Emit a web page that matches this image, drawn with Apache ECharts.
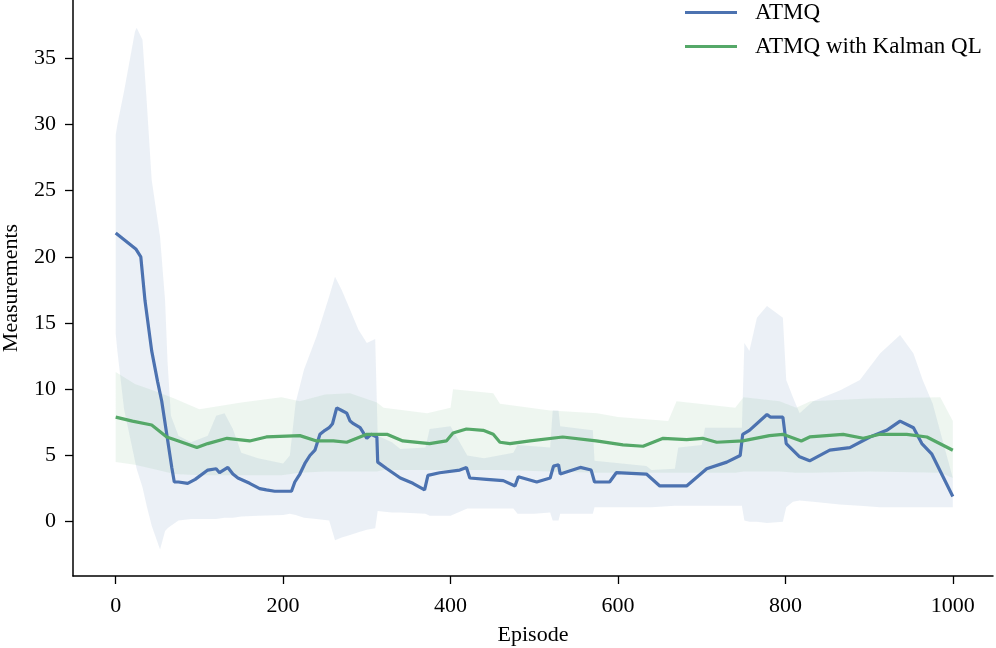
<!DOCTYPE html>
<html>
<head>
<meta charset="utf-8">
<script src="https://cdn.jsdelivr.net/npm/echarts@6/dist/echarts.min.js"></script>
<style>
  html, body { margin: 0; padding: 0; background: #fff; }
  #chart { width: 996px; height: 648px; }
</style>
</head>
<body>
<div id="chart"></div>
<script>
// ATMQ mean line
const atmqEp = [0, 24, 30, 35, 43, 50, 55, 61, 67, 70, 75, 86, 95, 110, 120, 124, 134, 140, 146, 160, 172, 180, 190, 210, 214, 220, 226, 232, 238, 244, 250, 255, 259, 264, 270, 276, 280, 284, 292, 300, 305, 312, 313, 324, 340, 355, 369, 373, 387, 411, 419, 423, 443, 463, 477, 481, 503, 519, 523, 529, 531, 555, 568, 572, 590, 598, 634, 650, 682, 706, 730, 746, 749, 757, 778, 782, 797, 801, 817, 829, 853, 877, 901, 921, 937, 953, 963, 975, 1000];
const atmqMean = [21.8, 20.6, 20.0, 16.7, 12.9, 10.6, 9.1, 6.6, 4.1, 3.0, 3.0, 2.9, 3.2, 3.9, 4.0, 3.7, 4.1, 3.6, 3.3, 2.9, 2.5, 2.4, 2.3, 2.3, 3.0, 3.6, 4.4, 5.0, 5.4, 6.6, 6.9, 7.1, 7.4, 8.6, 8.4, 8.2, 7.6, 7.4, 7.1, 6.3, 6.6, 6.4, 4.5, 4.0, 3.3, 2.9, 2.4, 3.5, 3.7, 3.9, 4.1, 3.3, 3.2, 3.1, 2.7, 3.4, 3.0, 3.3, 4.2, 4.3, 3.6, 4.1, 3.9, 3.0, 3.0, 3.7, 3.6, 2.7, 2.7, 4.0, 4.5, 5.0, 6.6, 6.9, 8.1, 7.9, 7.9, 5.9, 4.9, 4.6, 5.4, 5.6, 6.4, 6.9, 7.6, 7.1, 5.9, 5.1, 1.9];

// ATMQ with Kalman QL mean line
const kalmanEp = [0, 20, 43, 61, 75, 97, 110, 133, 160, 180, 220, 240, 260, 276, 300, 324, 343, 375, 395, 403, 419, 439, 451, 459, 471, 495, 534, 574, 606, 630, 654, 682, 701, 718, 749, 781, 797, 819, 829, 869, 893, 913, 945, 969, 1000];
const kalmanMean = [7.9, 7.6, 7.3, 6.4, 6.1, 5.6, 5.9, 6.3, 6.1, 6.4, 6.5, 6.1, 6.1, 6.0, 6.6, 6.6, 6.1, 5.9, 6.1, 6.7, 7.0, 6.9, 6.6, 6.0, 5.9, 6.1, 6.4, 6.1, 5.8, 5.7, 6.3, 6.2, 6.3, 6.0, 6.1, 6.5, 6.6, 6.1, 6.4, 6.6, 6.3, 6.6, 6.6, 6.4, 5.4];

// ATMQ spread band
const atmqBandEp = [0, 2, 10, 23, 25, 32, 37, 43, 53, 59, 62, 66, 75, 90, 110, 120, 130, 140, 150, 170, 200, 208, 215, 225, 240, 255, 262, 270, 280, 290, 300, 310, 313, 330, 340, 370, 375, 400, 420, 440, 475, 480, 500, 519, 522, 529, 531, 570, 572, 634, 640, 668, 672, 700, 704, 748, 751, 757, 766, 778, 797, 801, 809, 817, 833, 865, 889, 913, 937, 953, 964, 976, 1000];
const atmqLower = [14.2, 12.9, 8.5, 4.6, 4.0, 2.6, 1.2, -0.3, -2.1, -0.7, -0.5, -0.3, 0.1, 0.2, 0.2, 0.2, 0.3, 0.3, 0.4, 0.45, 0.5, 0.6, 0.5, 0.3, 0.2, 0.1, -1.4, -1.2, -1.0, -0.8, -0.6, -0.5, 0.8, 0.7, 0.7, 0.6, 0.45, 0.45, 1.0, 1.0, 1.0, 0.6, 0.6, 0.7, 0.1, 0.1, 0.6, 0.6, 1.1, 1.1, 1.1, 1.2, 1.2, 1.2, 1.2, 1.2, 0.1, 0.0, 0.0, -0.1, 0.0, 1.1, 1.5, 1.6, 1.5, 1.3, 1.2, 1.1, 1.1, 1.1, 1.1, 1.1, 1.1];
const atmqUpper = [29.2, 30.0, 32.5, 37.0, 37.3, 36.4, 31.8, 25.8, 21.5, 16.7, 12.0, 8.0, 6.5, 6.0, 6.5, 8.0, 8.2, 7.0, 5.2, 4.8, 4.4, 5.0, 9.0, 11.5, 14.0, 17.0, 18.5, 17.5, 16.0, 14.5, 13.5, 13.8, 6.5, 6.0, 5.5, 5.6, 7.0, 7.2, 5.0, 4.8, 5.2, 5.8, 5.7, 5.6, 8.4, 8.4, 7.2, 6.9, 4.6, 4.2, 3.9, 4.0, 5.6, 5.8, 7.1, 7.1, 13.5, 12.9, 15.4, 16.3, 15.4, 10.7, 9.4, 8.2, 9.1, 9.9, 10.7, 12.7, 14.1, 12.7, 10.7, 8.9, 3.3];

// ATMQ with Kalman QL spread band
const kalmanBandEp = [0, 23, 50, 70, 100, 150, 198, 220, 250, 280, 312, 320, 372, 400, 403, 451, 459, 519, 575, 600, 660, 670, 740, 750, 793, 813, 830, 900, 985, 1000];
const kalmanLower = [4.5, 4.3, 3.9, 3.6, 3.5, 3.5, 3.5, 3.7, 3.8, 3.8, 3.8, 3.9, 3.9, 3.9, 3.9, 3.9, 3.9, 3.8, 3.7, 3.7, 3.7, 3.7, 3.7, 3.8, 3.8, 3.7, 3.7, 3.8, 3.7, 3.3];
const kalmanUpper = [11.3, 10.4, 9.8, 9.3, 8.5, 9.0, 9.4, 9.1, 9.6, 9.7, 9.0, 8.6, 8.2, 8.6, 10.0, 9.7, 8.9, 8.4, 8.2, 7.9, 7.6, 9.1, 8.6, 9.4, 9.1, 8.6, 9.1, 9.3, 9.4, 7.6];

const xTicks = [0, 200, 400, 600, 800, 1000];
const yTicks = [0, 5, 10, 15, 20, 25, 30, 35];

const blue = '#4c72b0';
const green = '#55a868';
const font = 'Liberation Serif';

const pairs = (xs, ys) => xs.map((x, i) => [x, ys[i]]);

// filled band between lower and upper, drawn as one polygon through the axes
function band(xs, lo, hi, fill) {
  return {
    type: 'custom', silent: true, z: 1,
    data: xs.map((x, i) => [x, lo[i], hi[i]]),
    encode: { x: 0, y: [1, 2] },
    renderItem: (params, api) => {
      if (params.dataIndex !== 0) return null;
      const top = xs.map((x, i) => api.coord([x, hi[i]]));
      const bottom = xs.map((x, i) => api.coord([x, lo[i]])).reverse();
      return { type: 'polygon', shape: { points: top.concat(bottom) }, style: { fill: fill } };
    }
  };
}

const chart = echarts.init(document.getElementById('chart'));
chart.setOption({
  animation: false,
  textStyle: { fontFamily: font },
  grid: { left: 73, right: 3, top: 0, bottom: 72, containLabel: false, outerBoundsMode: 'none' },
  legend: {
    data: ['ATMQ', 'ATMQ with Kalman QL'],
    orient: 'vertical',
    left: 685, top: 1, padding: 0,
    icon: 'rect', itemWidth: 52, itemHeight: 3, itemGap: 11,
    textStyle: { fontFamily: font, fontSize: 23, color: '#000', padding: [0, 0, 0, 13] }
  },
  xAxis: {
    type: 'value', min: -51, max: 1048,
    name: 'Episode', nameLocation: 'middle', nameGap: 48,
    nameTextStyle: { fontFamily: font, fontSize: 22, color: '#000' },
    axisLine: { onZero: false, lineStyle: { color: '#000', width: 1.5 } },
    axisTick: { show: true, length: 8, lineStyle: { color: '#000', width: 1.3 }, customValues: xTicks },
    axisLabel: { fontFamily: font, fontSize: 22, color: '#000', margin: 19, customValues: xTicks, formatter: v => String(v) },
    splitLine: { show: false }
  },
  yAxis: {
    type: 'value', min: -4.1, max: 39.4,
    name: 'Measurements', nameLocation: 'middle', nameGap: 51,
    nameTextStyle: { fontFamily: font, fontSize: 22, color: '#000' },
    axisLine: { show: true, onZero: false, lineStyle: { color: '#000', width: 1.5 } },
    axisTick: { show: true, length: 8, lineStyle: { color: '#000', width: 1.3 }, customValues: yTicks },
    axisLabel: { fontFamily: font, fontSize: 22, color: '#000', margin: 17, customValues: yTicks },
    splitLine: { show: false }
  },
  series: [
    band(atmqBandEp, atmqLower, atmqUpper, 'rgba(76,114,176,0.11)'),
    band(kalmanBandEp, kalmanLower, kalmanUpper, 'rgba(85,168,104,0.10)'),
    {
      name: 'ATMQ', type: 'line', data: pairs(atmqEp, atmqMean),
      showSymbol: false, symbol: 'none', color: blue,
      lineStyle: { color: blue, width: 3.2 }, z: 3
    },
    {
      name: 'ATMQ with Kalman QL', type: 'line', data: pairs(kalmanEp, kalmanMean),
      showSymbol: false, symbol: 'none', color: green,
      lineStyle: { color: green, width: 3.2 }, z: 4
    }
  ]
});
</script>
</body>
</html>
